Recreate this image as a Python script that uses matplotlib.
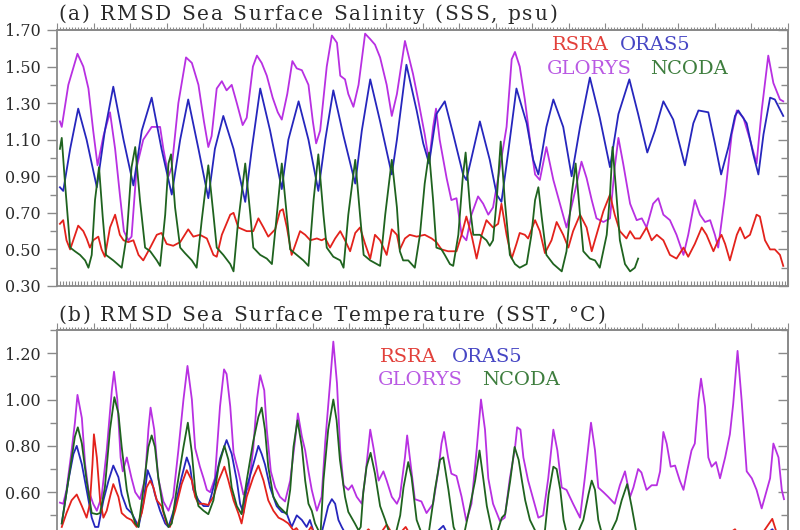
import matplotlib
matplotlib.use("Agg")
import matplotlib.pyplot as plt
from matplotlib.ticker import MultipleLocator, FixedLocator, FormatStrFormatter
from matplotlib.font_manager import findfont, FontProperties
from matplotlib.ft2font import FT2Font
import numpy as np

plt.rcParams['font.family'] = ['DejaVu Serif']

# time axis in years (0..20)

# (a) RMSD SSS (psu)
sss_glorys = [(0.08,1.20),(0.13,1.17),(0.31,1.40),(0.56,1.57),(0.72,1.50),(0.86,1.38),(0.99,1.15),(1.11,0.96),
	(1.27,1.12),(1.45,1.25),(1.59,1.05),(1.72,0.80),(1.83,0.60),(1.95,0.55),(2.04,0.57),(2.18,0.95),(2.36,1.10),
	(2.59,1.17),(2.82,1.17),(2.91,1.05),(3.05,0.90),(3.14,0.95),(3.32,1.30),(3.53,1.55),(3.69,1.52),(3.87,1.40),
	(4.02,1.20),(4.14,1.06),(4.23,1.12),(4.37,1.38),(4.51,1.42),(4.64,1.37),(4.78,1.40),(4.92,1.30),(5.08,1.18),
	(5.19,1.22),(5.36,1.50),(5.47,1.56),(5.60,1.52),(5.74,1.45),(5.90,1.33),(6.04,1.25),(6.15,1.21),(6.30,1.35),
	(6.44,1.53),(6.56,1.49),(6.70,1.48),(6.88,1.40),(7.00,1.20),(7.09,1.08),(7.20,1.15),(7.38,1.50),(7.52,1.67),
	(7.66,1.63),(7.75,1.45),(7.88,1.43),(7.97,1.35),(8.11,1.28),(8.25,1.40),(8.43,1.68),(8.57,1.65),(8.70,1.62),
	(8.84,1.55),(9.02,1.40),(9.16,1.23),(9.30,1.35),(9.52,1.64),(9.74,1.46),(9.88,1.32),(10.06,1.13),(10.18,0.98),
	(10.29,1.17),(10.37,1.27),(10.47,1.10),(10.66,0.89),(10.79,0.77),(10.93,0.78),(11.07,0.58),(11.20,0.55),
	(11.34,0.69),(11.52,0.79),(11.66,0.75),(11.80,0.69),(11.93,0.73),(12.12,0.95),(12.30,1.17),(12.44,1.54),
	(12.53,1.58),(12.66,1.50),(12.80,1.32),(12.94,1.10),(13.08,0.91),(13.21,0.88),(13.39,1.06),(13.58,0.88),
	(13.76,0.75),(13.94,0.62),(14.12,0.77),(14.35,0.98),(14.49,0.89),(14.63,0.77),(14.76,0.67),(14.95,0.65),
	(15.13,0.67),(15.26,0.95),(15.36,1.11),(15.49,0.97),(15.68,0.75),(15.86,0.66),(16.00,0.67),(16.13,0.62),
	(16.31,0.75),(16.45,0.78),(16.59,0.69),(16.77,0.66),(16.95,0.58),(17.14,0.47),(17.27,0.58),(17.45,0.77),
	(17.59,0.69),(17.73,0.65),(17.87,0.66),(18.00,0.58),(18.09,0.51),(18.28,0.80),(18.46,1.13),(18.60,1.26),
	(18.78,1.22),(18.96,1.10),(19.14,0.97),(19.28,1.26),(19.46,1.56),(19.60,1.41),(19.78,1.32),(19.87,1.31)]

sss_oras5 = [(0.08,0.84),(0.17,0.82),(0.36,1.05),(0.58,1.27),(0.81,1.10),(1.09,0.84),(1.31,1.15),(1.54,1.39),
	(1.82,1.10),(2.09,0.85),(2.32,1.15),(2.59,1.33),(2.86,1.05),(3.14,0.80),(3.37,1.10),(3.59,1.32),(3.87,1.05),
	(4.14,0.78),(4.32,1.05),(4.55,1.23),(4.83,1.05),(5.15,0.76),(5.33,1.05),(5.56,1.38),(5.83,1.15),(6.15,0.83),
	(6.33,1.10),(6.61,1.31),(6.88,1.10),(7.15,0.82),(7.34,1.10),(7.56,1.37),(7.84,1.12),(8.16,0.86),(8.34,1.15),
	(8.57,1.43),(8.84,1.20),(9.16,0.91),(9.30,1.10),(9.56,1.51),(9.84,1.26),(10.02,1.08),(10.18,0.97),(10.38,1.24),
	(10.61,1.31),(10.84,1.13),(11.11,0.91),(11.20,0.88),(11.34,1.00),(11.57,1.20),(11.84,0.99),(12.03,0.80),
	(12.16,0.76),(12.35,1.04),(12.57,1.38),(12.85,1.19),(13.03,0.99),(13.17,0.91),(13.39,1.17),(13.58,1.32),
	(13.85,1.17),(14.08,0.90),(14.31,1.17),(14.58,1.44),(14.85,1.22),(15.13,0.95),(15.36,1.24),(15.66,1.43),
	(15.90,1.24),(16.15,1.03),(16.36,1.15),(16.59,1.31),(16.86,1.21),(17.18,0.96),(17.41,1.19),(17.55,1.26),
	(17.82,1.25),(18.00,1.08),(18.17,0.91),(18.37,1.06),(18.55,1.23),(18.64,1.26),(18.87,1.19),(19.05,1.02),
	(19.19,0.91),(19.33,1.13),(19.51,1.33),(19.64,1.32),(19.87,1.23)]

sss_rsra = [(0.08,0.64),(0.17,0.66),(0.26,0.55),(0.36,0.50),(0.58,0.63),(0.72,0.60),(0.81,0.56),(0.90,0.51),
	(0.99,0.55),(1.13,0.57),(1.22,0.50),(1.31,0.46),(1.45,0.62),(1.59,0.69),(1.72,0.58),(1.82,0.55),(1.95,0.54),
	(2.09,0.55),(2.23,0.47),(2.36,0.44),(2.55,0.51),(2.73,0.58),(2.86,0.59),(3.00,0.53),(3.18,0.52),(3.37,0.54),
	(3.59,0.61),(3.73,0.57),(3.91,0.58),(4.10,0.56),(4.28,0.47),(4.37,0.46),(4.51,0.58),(4.74,0.69),(4.83,0.70),
	(4.96,0.62),(5.19,0.60),(5.37,0.60),(5.51,0.67),(5.65,0.62),(5.78,0.57),(5.97,0.61),(6.10,0.71),(6.18,0.72),
	(6.29,0.62),(6.42,0.47),(6.51,0.52),(6.65,0.60),(6.79,0.58),(6.93,0.55),(7.11,0.56),(7.24,0.55),(7.34,0.56),
	(7.47,0.51),(7.61,0.56),(7.75,0.60),(7.88,0.55),(8.02,0.49),(8.16,0.59),(8.29,0.62),(8.43,0.53),(8.57,0.45),
	(8.70,0.58),(8.84,0.55),(9.02,0.47),(9.16,0.61),(9.30,0.58),(9.38,0.50),(9.52,0.56),(9.65,0.58),(9.84,0.57),
	(10.06,0.58),(10.25,0.56),(10.38,0.54),(10.52,0.50),(10.70,0.49),(10.93,0.49),(11.07,0.58),(11.20,0.68),
	(11.34,0.58),(11.48,0.45),(11.62,0.58),(11.75,0.66),(11.93,0.62),(12.07,0.64),(12.16,0.75),(12.30,0.58),
	(12.44,0.45),(12.57,0.53),(12.66,0.59),(12.80,0.58),(12.89,0.56),(13.08,0.66),(13.21,0.60),(13.35,0.48),
	(13.53,0.55),(13.67,0.65),(13.85,0.58),(13.99,0.51),(14.12,0.60),(14.31,0.69),(14.49,0.62),(14.63,0.49),
	(14.76,0.58),(14.95,0.71),(15.13,0.80),(15.26,0.69),(15.40,0.60),(15.58,0.56),(15.68,0.60),(15.81,0.56),
	(15.95,0.56),(16.13,0.62),(16.27,0.55),(16.41,0.58),(16.59,0.55),(16.77,0.47),(16.95,0.45),(17.14,0.51),
	(17.27,0.46),(17.45,0.53),(17.64,0.62),(17.77,0.58),(17.96,0.49),(18.09,0.55),(18.18,0.58),(18.28,0.53),
	(18.41,0.44),(18.60,0.58),(18.69,0.62),(18.82,0.56),(18.96,0.58),(19.14,0.69),(19.23,0.68),(19.37,0.55),
	(19.51,0.50),(19.64,0.50),(19.78,0.47),(19.87,0.41)]

sss_ncoda = [(0.08,1.05),(0.13,1.11),(0.22,0.86),(0.36,0.51),(0.49,0.49),(0.63,0.47),(0.77,0.44),(0.86,0.40),
	(0.95,0.47),(1.04,0.77),(1.15,0.95),(1.25,0.68),(1.34,0.47),(1.54,0.44),(1.77,0.40),(1.91,0.58),(2.04,0.95),
	(2.14,1.06),(2.27,0.77),(2.41,0.51),(2.55,0.49),(2.73,0.44),(2.82,0.41),(2.96,0.69),(3.05,0.97),(3.12,1.02),
	(3.23,0.73),(3.37,0.51),(3.50,0.48),(3.69,0.44),(3.82,0.40),(3.96,0.66),(4.14,0.96),(4.28,0.69),(4.37,0.51),
	(4.55,0.47),(4.74,0.42),(4.83,0.38),(4.94,0.62),(5.15,0.97),(5.29,0.69),(5.37,0.51),(5.56,0.47),(5.74,0.45),
	(5.88,0.42),(6.01,0.68),(6.15,0.97),(6.29,0.68),(6.38,0.50),(6.56,0.47),(6.74,0.44),(6.88,0.41),(7.02,0.77),
	(7.15,1.02),(7.29,0.69),(7.38,0.51),(7.56,0.46),(7.75,0.44),(7.84,0.40),(7.97,0.69),(8.16,0.99),(8.29,0.69),
	(8.39,0.47),(8.57,0.44),(8.75,0.42),(8.84,0.41),(8.98,0.69),(9.16,0.99),(9.30,0.73),(9.38,0.49),(9.47,0.44),
	(9.61,0.44),(9.79,0.40),(9.93,0.58),(10.06,0.86),(10.18,1.03),(10.29,0.77),(10.38,0.51),(10.52,0.50),
	(10.61,0.47),(10.75,0.42),(10.84,0.41),(10.98,0.58),(11.10,0.89),(11.18,1.03),(11.30,0.73),(11.39,0.58),
	(11.57,0.58),(11.75,0.55),(11.84,0.52),(11.93,0.55),(12.03,0.77),(12.14,1.09),(12.25,0.77),(12.39,0.47),
	(12.53,0.42),(12.66,0.40),(12.85,0.42),(12.98,0.58),(13.08,0.77),(13.17,0.84),(13.26,0.68),(13.39,0.47),
	(13.58,0.42),(13.81,0.38),(13.94,0.49),(14.08,0.80),(14.19,0.97),(14.31,0.69),(14.40,0.49),(14.58,0.45),
	(14.72,0.44),(14.85,0.40),(15.04,0.58),(15.13,0.80),(15.20,1.06),(15.29,0.84),(15.40,0.55),(15.54,0.42),
	(15.68,0.38),(15.81,0.40),(15.90,0.45)]

# (b) RMSD SST (degC)
sst_glorys = [(0.08,0.555),(0.17,0.55),(0.26,0.61),(0.40,0.78),(0.49,0.90),(0.56,1.02),(0.68,0.92),(0.77,0.72),
	(0.86,0.61),(0.99,0.55),(1.09,0.52),(1.22,0.58),(1.36,0.78),(1.50,1.04),(1.56,1.12),(1.65,1.00),(1.74,0.75),
	(1.80,0.69),(1.91,0.75),(2.04,0.66),(2.14,0.60),(2.27,0.57),(2.41,0.66),(2.50,0.87),(2.56,0.965),(2.66,0.87),
	(2.77,0.66),(2.91,0.56),(3.05,0.52),(3.18,0.58),(3.32,0.78),(3.46,1.00),(3.57,1.145),(3.69,1.00),(3.78,0.79),
	(3.91,0.71),(4.01,0.66),(4.10,0.61),(4.19,0.60),(4.32,0.66),(4.46,0.97),(4.57,1.13),(4.64,1.11),(4.74,0.97),
	(4.83,0.77),(4.96,0.69),(5.10,0.59),(5.24,0.62),(5.37,0.79),(5.47,1.00),(5.56,1.105),(5.67,1.04),(5.74,0.87),
	(5.85,0.69),(5.97,0.62),(6.10,0.58),(6.24,0.56),(6.38,0.65),(6.51,0.82),(6.59,0.94),(6.70,0.84),(6.79,0.78),
	(6.88,0.69),(6.97,0.61),(7.11,0.52),(7.24,0.58),(7.34,0.82),(7.47,1.07),(7.56,1.25),(7.66,1.07),(7.75,0.78),
	(7.84,0.63),(7.97,0.61),(8.07,0.63),(8.20,0.58),(8.34,0.55),(8.43,0.66),(8.57,0.87),(8.66,0.79),(8.80,0.65),
	(8.93,0.69),(9.02,0.65),(9.16,0.58),(9.30,0.55),(9.38,0.58),(9.52,0.75),(9.58,0.845),(9.70,0.69),(9.79,0.57),
	(9.97,0.56),(10.11,0.51),(10.29,0.55),(10.43,0.69),(10.52,0.81),(10.59,0.86),(10.70,0.75),(10.79,0.68),
	(10.93,0.67),(11.07,0.58),(11.20,0.475),(11.34,0.55),(11.48,0.78),(11.60,1.00),(11.71,0.87),(11.80,0.66),
	(11.93,0.55),(12.12,0.475),(12.25,0.49),(12.39,0.66),(12.53,0.79),(12.59,0.88),(12.68,0.87),(12.76,0.75),
	(12.89,0.65),(13.03,0.57),(13.17,0.49),(13.30,0.50),(13.44,0.66),(13.58,0.87),(13.69,0.78),(13.81,0.62),
	(13.94,0.61),(14.12,0.55),(14.31,0.49),(14.44,0.66),(14.61,0.90),(14.72,0.78),(14.81,0.62),(14.95,0.60),
	(15.08,0.58),(15.26,0.55),(15.40,0.63),(15.54,0.69),(15.68,0.58),(15.77,0.62),(15.90,0.70),(15.99,0.685),
	(16.13,0.61),(16.27,0.63),(16.41,0.63),(16.50,0.69),(16.59,0.86),(16.68,0.81),(16.79,0.71),(16.91,0.715),
	(17.04,0.65),(17.14,0.61),(17.24,0.69),(17.36,0.78),(17.45,0.81),(17.55,1.00),(17.62,1.09),(17.73,0.97),
	(17.82,0.75),(17.91,0.71),(18.03,0.73),(18.14,0.66),(18.28,0.75),(18.41,0.85),(18.50,0.98),(18.62,1.21),
	(18.73,1.00),(18.87,0.69),(19.01,0.66),(19.14,0.61),(19.28,0.53),(19.42,0.61),(19.51,0.66),(19.60,0.81),
	(19.74,0.75),(19.83,0.61),(19.89,0.57)]

sst_oras5 = [(0.13,0.465),(0.31,0.65),(0.45,0.765),(0.54,0.80),(0.68,0.72),(0.81,0.61),(0.95,0.49),(1.04,0.45),
	(1.13,0.45),(1.27,0.565),(1.41,0.65),(1.54,0.715),(1.68,0.665),(1.77,0.59),(1.91,0.53),(2.04,0.51),(2.14,0.48),
	(2.23,0.45),(2.36,0.55),(2.48,0.695),(2.59,0.65),(2.68,0.59),(2.82,0.52),(2.96,0.465),(3.05,0.45),(3.23,0.54),
	(3.41,0.665),(3.55,0.75),(3.64,0.71),(3.73,0.61),(3.87,0.565),(4.01,0.54),(4.14,0.54),(4.23,0.59),(4.37,0.68),
	(4.46,0.745),(4.64,0.825),(4.78,0.765),(4.92,0.65),(5.01,0.55),(5.10,0.51),(5.19,0.62),(5.37,0.72),(5.51,0.80),
	(5.60,0.765),(5.69,0.72),(5.83,0.62),(6.01,0.54),(6.15,0.515),(6.28,0.51),(6.42,0.45),(6.56,0.50),(6.70,0.48),
	(6.83,0.45),(6.92,0.48),(7.01,0.435),(7.20,0.40),(7.33,0.48),(7.42,0.54),(7.52,0.57),(7.61,0.55),(7.70,0.48),
	(7.79,0.45),(8.00,0.39),(8.55,0.42),(9.00,0.38),(9.55,0.43),(10.00,0.37),(10.57,0.455),(10.75,0.40),
	(11.10,0.36),(11.55,0.41),(12.00,0.36),(12.55,0.41),(13.00,0.36),(13.55,0.41),(14.00,0.36),(14.55,0.41),
	(15.00,0.36),(15.55,0.41),(16.00,0.36),(16.55,0.40),(17.00,0.36),(17.55,0.41),(18.00,0.36),(18.55,0.42),
	(19.00,0.37),(19.57,0.44),(19.87,0.38)]

sst_rsra = [(0.13,0.45),(0.26,0.51),(0.40,0.565),(0.54,0.59),(0.68,0.54),(0.81,0.49),(0.90,0.55),(0.97,0.72),
	(1.01,0.85),(1.09,0.75),(1.18,0.565),(1.27,0.49),(1.36,0.52),(1.45,0.58),(1.54,0.635),(1.68,0.58),(1.77,0.51),
	(1.91,0.49),(2.04,0.48),(2.18,0.45),(2.32,0.51),(2.45,0.62),(2.55,0.65),(2.64,0.62),(2.73,0.565),(2.86,0.54),
	(3.00,0.465),(3.09,0.45),(3.23,0.52),(3.41,0.635),(3.55,0.695),(3.69,0.65),(3.78,0.58),(3.87,0.55),(4.01,0.55),
	(4.14,0.545),(4.28,0.58),(4.42,0.65),(4.58,0.71),(4.69,0.65),(4.83,0.565),(4.96,0.51),(5.05,0.465),(5.19,0.58),
	(5.37,0.665),(5.51,0.715),(5.65,0.65),(5.78,0.565),(5.92,0.52),(6.06,0.49),(6.19,0.48),(6.33,0.465),(6.47,0.435),
	(6.55,0.445),(6.75,0.40),(6.95,0.45),(7.20,0.38),(7.55,0.42),(7.90,0.37),(8.20,0.39),(8.52,0.44),(8.75,0.40),
	(9.02,0.46),(9.25,0.40),(9.54,0.45),(9.80,0.38),(10.10,0.40),(10.55,0.43),(11.00,0.37),(11.55,0.42),(12.00,0.37),
	(12.55,0.42),(13.00,0.37),(13.55,0.42),(14.00,0.37),(14.55,0.42),(15.00,0.37),(15.55,0.42),(16.00,0.37),
	(16.55,0.41),(17.00,0.37),(17.55,0.42),(18.00,0.38),(18.55,0.44),(18.80,0.38),(19.20,0.40),(19.57,0.485),
	(19.70,0.42),(19.87,0.39)]

sst_ncoda = [(0.13,0.465),(0.31,0.65),(0.49,0.84),(0.57,0.88),(0.68,0.81),(0.81,0.65),(0.95,0.51),(1.09,0.505),
	(1.18,0.51),(1.31,0.62),(1.45,0.87),(1.57,1.01),(1.68,0.94),(1.77,0.795),(1.91,0.61),(2.00,0.54),(2.14,0.465),
	(2.23,0.45),(2.36,0.61),(2.50,0.795),(2.59,0.845),(2.68,0.795),(2.77,0.665),(2.91,0.52),(3.05,0.45),(3.14,0.465),
	(3.28,0.62),(3.46,0.795),(3.58,0.90),(3.69,0.77),(3.78,0.61),(3.87,0.54),(4.01,0.52),(4.14,0.505),(4.28,0.565),
	(4.42,0.71),(4.58,0.80),(4.69,0.74),(4.78,0.62),(4.92,0.54),(5.05,0.505),(5.19,0.65),(5.37,0.82),(5.51,0.925),
	(5.60,0.965),(5.69,0.87),(5.78,0.71),(5.92,0.58),(6.06,0.54),(6.19,0.52),(6.28,0.505),(6.38,0.61),(6.47,0.795),
	(6.58,0.91),(6.70,0.795),(6.79,0.65),(6.88,0.55),(6.97,0.52),(7.06,0.465),(7.15,0.435),(7.21,0.42),(7.29,0.65),
	(7.42,0.87),(7.56,1.00),(7.65,0.91),(7.74,0.74),(7.88,0.58),(7.97,0.515),(8.06,0.49),(8.15,0.465),(8.25,0.435),
	(8.31,0.45),(8.38,0.60),(8.47,0.71),(8.58,0.77),(8.70,0.68),(8.84,0.54),(8.98,0.48),(9.07,0.435),(9.25,0.41),
	(9.39,0.50),(9.48,0.62),(9.61,0.73),(9.70,0.665),(9.84,0.48),(9.98,0.42),(10.15,0.40),(10.34,0.61),(10.48,0.74),
	(10.57,0.75),(10.71,0.61),(10.85,0.45),(10.98,0.40),(11.16,0.435),(11.30,0.54),(11.44,0.65),(11.56,0.78),
	(11.67,0.65),(11.76,0.54),(11.90,0.435),(12.03,0.42),(12.17,0.49),(12.26,0.505),(12.40,0.65),(12.52,0.795),
	(12.63,0.74),(12.72,0.65),(12.81,0.565),(12.94,0.48),(13.08,0.435),(13.22,0.41),(13.35,0.435),(13.45,0.59),
	(13.58,0.71),(13.67,0.70),(13.77,0.61),(13.86,0.48),(13.95,0.42),(14.18,0.40),(14.40,0.48),(14.54,0.59),
	(14.63,0.65),(14.72,0.61),(14.81,0.48),(14.91,0.42),(15.13,0.42),(15.31,0.48),(15.45,0.565),(15.60,0.635),
	(15.72,0.54),(15.84,0.435),(15.93,0.40)]

names = ["RSRA", "ORAS5", "GLORYS", "NCODA"]
line_col = {"RSRA": "#e3221c", "ORAS5": "#2626bd", "GLORYS": "#b830e2", "NCODA": "#1f631f"}
text_col = {"RSRA": "#e2403a", "ORAS5": "#4646c4", "GLORYS": "#b959e3", "NCODA": "#3d7d3d"}
GREY = "#8a8a8a"
INK = "#2a2a2a"

W, H = 800, 530
DPI = 100

def fx(px):
	return px / W

def fy(py):
	return 1 - py / H

def spaced_text(x_left, y_base, s, size, x_right, color):
	"""Title written char by char, spread out to span x_left..x_right (pixels)."""
	font = FT2Font(findfont(FontProperties(family='DejaVu Serif')))
	font.set_size(size, DPI)
	adv = []
	for ch in s:
		g = font.load_char(ord(ch))
		adv.append(g.linearHoriAdvance / 65536.0)
	natural = sum(adv)
	track = (x_right - x_left - natural) / (len(s) - 1)
	x = x_left
	for ch, a in zip(s, adv):
		if ch != " ":
			fig.text(fx(x), fy(y_base), ch, fontsize=size, color=color, va='baseline')
		x += a + track

def style_axes(ax, ylo, yhi, yticks):
	ax.set_xlim(0, 20)
	ax.set_ylim(ylo, yhi)
	for s in ax.spines.values():
		s.set_color(GREY)
		s.set_linewidth(1.3)
	ax.yaxis.set_major_locator(FixedLocator(yticks))
	ax.yaxis.set_minor_locator(MultipleLocator(0.1))
	ax.yaxis.set_major_formatter(FormatStrFormatter('%.2f'))
	ax.tick_params(axis='y', which='both', direction='out', right=False, color=GREY, width=1.0, labelcolor=INK)
	ax.tick_params(axis='y', which='major', length=7, labelsize=11.5, pad=5)
	ax.tick_params(axis='y', which='minor', length=5)
	ax.xaxis.set_major_locator(MultipleLocator(1))
	ax.xaxis.set_minor_locator(MultipleLocator(1 / 12))
	ax.tick_params(axis='x', which='both', direction='in', top=False, labelbottom=False, color=GREY, width=0.8)
	ax.tick_params(axis='x', which='major', length=4)
	ax.tick_params(axis='x', which='minor', length=3.5)
	# top ticks point out, right ticks point in
	top = ax.secondary_xaxis('top')
	top.xaxis.set_major_locator(MultipleLocator(1))
	top.xaxis.set_minor_locator(MultipleLocator(1 / 12))
	top.tick_params(axis='x', which='both', direction='out', labeltop=False, color=GREY, width=0.8)
	top.tick_params(axis='x', which='major', length=5)
	top.tick_params(axis='x', which='minor', length=2.5)
	right = ax.secondary_yaxis('right')
	right.yaxis.set_major_locator(FixedLocator(yticks))
	right.yaxis.set_minor_locator(MultipleLocator(0.1))
	right.tick_params(axis='y', which='both', direction='in', labelright=False, color=GREY, width=1.0)
	right.tick_params(axis='y', which='major', length=7)
	right.tick_params(axis='y', which='minor', length=5)
	for sec in (top, right):
		for s in sec.spines.values():
			s.set_color(GREY)
			s.set_linewidth(1.3)

def draw(ax, series):
	for name in ["GLORYS", "ORAS5", "RSRA", "NCODA"]:
		t, v = zip(*series[name])
		ax.plot(t, v, color=line_col[name], lw=1.3, solid_joinstyle='round')

fig = plt.figure(figsize=(W / DPI, H / DPI), dpi=DPI)

ax1 = fig.add_axes([fx(57), fy(286), fx(788) - fx(57), fy(30) - fy(286)])
style_axes(ax1, 0.30, 1.70, np.arange(0.30, 1.71, 0.20))
draw(ax1, {"RSRA": sss_rsra, "ORAS5": sss_oras5, "GLORYS": sss_glorys, "NCODA": sss_ncoda})

# panel (b) runs past the bottom of the picture
b_top, b_scale = 330, 231.7
ax2 = fig.add_axes([fx(57), fy(b_top + b_scale), fx(788) - fx(57), b_scale / H])
style_axes(ax2, 0.30, 1.30, [0.60, 0.80, 1.00, 1.20])
draw(ax2, {"RSRA": sst_rsra, "ORAS5": sst_oras5, "GLORYS": sst_glorys, "NCODA": sst_ncoda})

spaced_text(58, 20, "(a) RMSD Sea Surface Salinity (SSS, psu)", 14.5, 557, INK)
spaced_text(58, 321, "(b) RMSD Sea Surface Temperature (SST, \u00b0C)", 14.5, 605, INK)

legend_a = {"RSRA": (552, 50), "ORAS5": (620, 50), "GLORYS": (547, 74), "NCODA": (650, 74)}
legend_b = {"RSRA": (380, 362), "ORAS5": (452, 362), "GLORYS": (378, 385), "NCODA": (482, 385)}
for pos in (legend_a, legend_b):
	for name in names:
		x, y = pos[name]
		fig.text(fx(x), fy(y), name, fontsize=14, color=text_col[name], va='baseline')

fig.savefig("out.png", dpi=DPI)
